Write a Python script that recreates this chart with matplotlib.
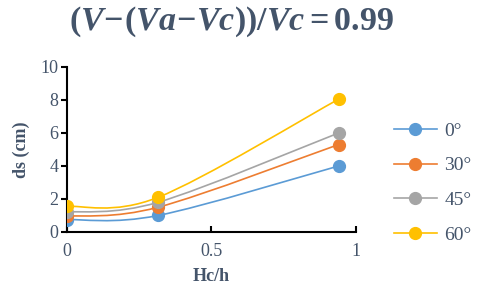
import numpy as np
import matplotlib.pyplot as plt
from matplotlib.path import Path
from matplotlib.patches import PathPatch
from matplotlib.lines import Line2D

plt.rcParams['font.family'] = 'Liberation Serif'
plt.rcParams['mathtext.fontset'] = 'custom'
plt.rcParams['mathtext.it'] = 'Liberation Serif:italic:bold'
plt.rcParams['mathtext.rm'] = 'Liberation Serif:bold'
plt.rcParams['mathtext.bf'] = 'Liberation Serif:bold'

# 数据
hc_h = [0.0, 0.315, 0.94]
ds_0 = [0.75, 1.0, 4.0]
ds_30 = [0.95, 1.5, 5.3]
ds_45 = [1.2, 1.8, 6.0]
ds_60 = [1.55, 2.1, 8.05]
labels = ['0°', '30°', '45°', '60°']
colors = ['#5B9BD5', '#ED7D31', '#A5A5A5', '#FFC000']
text_color = '#44546A'


def smooth_path(x, y):
    # Excel 风格的平滑曲线（Bezier）
    pts = np.column_stack([x, y]).astype(float)
    n = len(pts)
    verts = [pts[0]]
    codes = [Path.MOVETO]
    for i in range(n - 1):
        p0 = pts[i - 1] if i > 0 else pts[i]
        p1 = pts[i]
        p2 = pts[i + 1]
        p3 = pts[i + 2] if i + 2 < n else pts[i + 1]
        c1 = p1 + (p2 - p0) / 6
        c2 = p2 - (p3 - p1) / 6
        verts += [c1, c2, p2]
        codes += [Path.CURVE4] * 3
    return Path(verts, codes)


fig = plt.figure(figsize=(4.8, 2.98), dpi=100)
ax = fig.add_axes([0.1396, 0.2215, 0.602, 0.5537])

handles = []
for ys, c, lab in zip([ds_0, ds_30, ds_45, ds_60], colors, labels):
    patch = PathPatch(smooth_path(hc_h, ys), facecolor='none', edgecolor=c, lw=1.2, zorder=2)
    ax.add_patch(patch)
    ax.plot(hc_h, ys, linestyle='none', marker='o', markersize=8.5, color=c, zorder=3)
    handles.append(Line2D([], [], color=c, lw=1.2, marker='o', markersize=8.5, label=lab))

ax.set_xlim(0, 1)
ax.set_ylim(0, 10)
ax.set_xticks([0, 0.5, 1])
ax.set_xticklabels(['0', '0.5', '1'])
ax.set_yticks([0, 2, 4, 6, 8, 10])

for s in ['top', 'right']:
    ax.spines[s].set_visible(False)
for s in ['left', 'bottom']:
    ax.spines[s].set_linewidth(1.5)
    ax.spines[s].set_color('black')

ax.tick_params(axis='x', direction='in', length=4, width=1.5, labelsize=13,
               labelcolor=text_color, pad=8)
ax.tick_params(axis='y', direction='out', length=4, width=1.5, labelsize=13,
               labelcolor=text_color, pad=2)

ax.set_xlabel('Hc/h', fontsize=13, fontweight='bold', color=text_color, labelpad=6)
ax.set_ylabel('ds (cm)', fontsize=13, fontweight='bold', color=text_color, labelpad=8)

fig.suptitle(r'$(V\!-\!(Va\!-\!Vc))/Vc = 0.99$', x=0.482, y=0.985, fontsize=24.5,
             color=text_color)

leg = fig.legend(handles=handles, loc='upper left', bbox_to_anchor=(394 / 480, 1 - 122 / 298),
                 bbox_transform=fig.transFigure, borderaxespad=0, borderpad=0,
                 frameon=False, fontsize=14, labelcolor=text_color,
                 handlelength=2.2, handletextpad=0.4, labelspacing=0.88)

plt.savefig('out.png', dpi=100)
